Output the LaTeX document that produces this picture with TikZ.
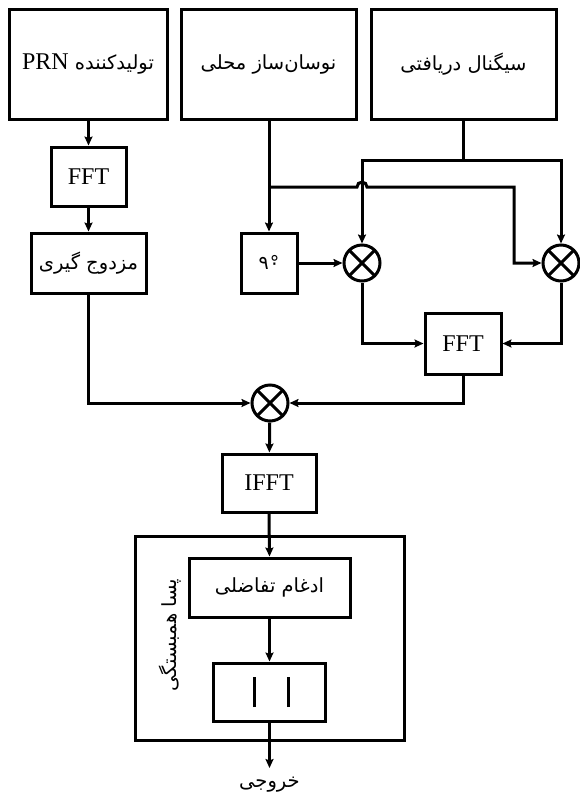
\documentclass[tikz,border=0pt]{standalone}
\usepackage{fontspec}
\setmainfont{Liberation Serif}
\newfontfamily\fa[Script=Arabic]{DejaVu Sans}
\TeXXeTstate=1
\usetikzlibrary{arrows.meta}
\begin{document}
\begin{tikzpicture}[x=1pt,y=-1pt,line width=3pt,
  box/.style={draw,line width=3pt,inner sep=0pt,align=center},
  mult/.style={draw,circle,line width=3pt,minimum size=36pt,inner sep=0pt,
    path picture={\draw[line width=3pt]
      (path picture bounding box.north west) -- (path picture bounding box.south east)
      (path picture bounding box.north east) -- (path picture bounding box.south west);}},
  arr/.style={-{Stealth[length=9pt,width=8pt,inset=1.5pt]},line width=3pt},
  lat/.style={font=\fontsize{24}{28}\selectfont},
  per/.style={font=\fa\fontsize{19.5}{23}\selectfont}]
\useasboundingbox (0,0) rectangle (579,796);
% top boxes
\node[box,per,minimum width=158pt,minimum height=110pt] (prn) at (88,64)
  {\beginR تولیدکننده {\fontsize{24}{28}\rmfamily\beginL PRN\endL}\endR};
\node[box,per,minimum width=175pt,minimum height=110pt] (osc) at (268.5,64)
  {\beginR نوسان‌ساز محلی\endR};
\node[box,per,minimum width=185pt,minimum height=110pt] (sig) at (463.5,64)
  {\beginR سیگنال دریافتی\endR};
% left chain
\node[box,lat,minimum width=75pt,minimum height=59pt] (fft1) at (88.5,176.5) {FFT};
\node[box,per,minimum width=115pt,minimum height=60pt] (conj) at (88.5,263)
  {\beginR مزدوج گیری\endR};
% middle/right
\node[box,minimum width=56pt,minimum height=60pt,font=\fa\fontsize{19}{22}\selectfont] (deg) at (269,263)
  {۹\kern1pt\ooalign{\hidewidth ۰\hidewidth\cr °\cr}};
\node[mult] (mL) at (362,263) {};
\node[mult] (mR) at (561,263) {};
\node[box,lat,minimum width=76pt,minimum height=61pt] (fft2) at (463,343.5) {FFT};
\node[mult] (mC) at (270,403) {};
\node[box,lat,minimum width=94pt,minimum height=58pt] (ifft) at (269,483) {IFFT};
% post-correlation
\node[box,minimum width=269pt,minimum height=204pt] (post) at (269.5,638) {};
\node[box,per,minimum width=161pt,minimum height=59pt] (diff) at (269.5,587.5)
  {\beginR ادغام تفاضلی\endR};
\node[box,minimum width=112pt,minimum height=58pt] (abs) at (269.5,692) {};
\draw ([xshift=-15pt,yshift=-15pt]abs.center) -- ([xshift=-15pt,yshift=15pt]abs.center);
\draw ([xshift=19pt,yshift=-15pt]abs.center) -- ([xshift=19pt,yshift=15pt]abs.center);
\node[per,rotate=90] (postlbl) at (170,635) {\beginR پسا همبستگی\endR};
\coordinate (out) at (269.5,768);
\node[per] (outlbl) at (269.5,785) {\beginR خروجی\endR};
% junctions
\coordinate (sj) at (463,160);
\coordinate (ob) at (269,187);
\coordinate (hop) at (362,187);
\coordinate (rb) at (514,187);
% connectors
\draw[arr] (prn.south -| fft1) -- (fft1.north);
\draw[arr] (fft1) -- (conj);
\draw[arr] (conj.south) -- (conj.south |- mC) -- (mC.west);
\draw[arr] (osc.south -| deg) -- (deg.north);
\draw (sig.south -| sj) -- (sj);
\draw[arr] (sj) -| (mL.north);
\draw[arr] (sj) -| (mR.north);
\draw[arr] (ob) -- ([xshift=-5pt]hop) arc[start angle=180,end angle=360,radius=5]
  -- (rb) |- (mR.west);
\draw[arr] (deg.east) -- (mL.west);
\draw[arr] (mL.south) |- (fft2.west);
\draw[arr] (mR.south) |- (fft2.east);
\draw[arr] (fft2.south) |- (mC.east);
\draw[arr] (mC) -- (ifft);
\draw[arr] (ifft.south) -- (diff.north);
\draw[arr] (diff) -- (abs);
\draw[arr] (abs.south) -- (out);
\end{tikzpicture}
\end{document}
